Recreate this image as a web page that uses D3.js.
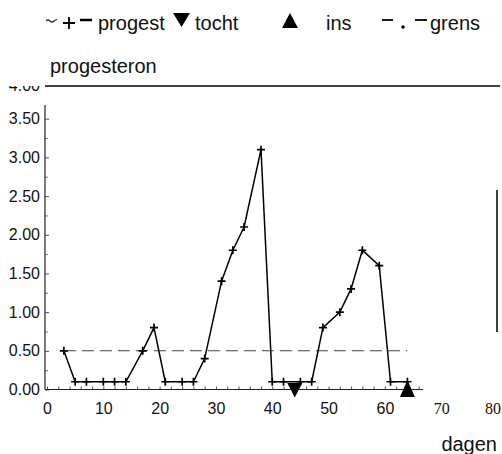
<!DOCTYPE html>
<html>
<head>
<meta charset="utf-8">
<script src="https://d3js.org/d3.v7.min.js"></script>
<style>
    body {margin: 0; background: #fff;}
    text {fill: #111;}
    .word {font-family: "Liberation Sans", Arial, sans-serif; font-size: 20px;}
    .tick text {font-family: "Liberation Sans", Arial, sans-serif; font-size: 16px;}
    .serif text {font-family: "Liberation Serif", "Times New Roman", serif;}
</style>
</head>
<body>
<script>

    // progesteron per dag
    var days    = [3, 5, 7, 10, 12, 14, 17, 19, 21, 24, 26, 28, 31, 33, 35, 38, 40, 42, 45, 47, 49, 52, 54, 56, 59, 61, 64];
    var progest = [0.5, 0.1, 0.1, 0.1, 0.1, 0.1, 0.5, 0.8, 0.1, 0.1, 0.1, 0.4, 1.4, 1.8, 2.1, 3.1, 0.1, 0.1, 0.1, 0.1, 0.8, 1.0, 1.3, 1.8, 1.6, 0.1, 0.1];
    var tocht = [44];
    var ins = [64];
    var grensDays = [3, 64], grensValue = 0.5;
    var xTicks = [0, 10, 20, 30, 40, 50, 60, 70, 80];
    var yTicks = [0, 0.5, 1, 1.5, 2, 2.5, 3, 3.5, 4];

    var width = 502, height = 454;

    var svg = d3.select("body").append("svg")
        .attr("width", width)
        .attr("height", height)

    var x = d3.scaleLinear().domain([0, 80]).range([47, 497.5]);
    var y = d3.scaleLinear().domain([0, 4]).range([389.5, 80]);

    // y axis: labels left, small ticks inside
    var yAxis = svg.append("g")
        .attr("transform", "translate(45,0)")
        .call(d3.axisLeft(y).tickValues(yTicks).tickFormat(d3.format(".2f")).tickSizeInner(-4).tickSizeOuter(0).tickPadding(5))
    yAxis.select(".domain").remove();
    yAxis.selectAll(".tick line").attr("stroke", "#555");
    var top4 = yAxis.selectAll(".tick").filter(function (d) { return d > 3.5 });
    top4.select("line").remove();
    top4.select("text").attr("dy", "0.68em");

    var yMinor = svg.append("g")
        .attr("transform", "translate(45,0)")
        .call(d3.axisLeft(y).tickValues(d3.range(0.25, 3.5, 0.5)).tickSizeInner(-3).tickSizeOuter(0).tickFormat(""))
    yMinor.select(".domain").remove();
    yMinor.selectAll("line").attr("stroke", "#777");

    svg.append("line")
        .attr("x1", 45).attr("x2", 45)
        .attr("y1", 105).attr("y2", y(0))
        .attr("stroke", "#222").attr("stroke-width", 1.2);

    // x axis
    var xAxis = svg.append("g")
        .attr("transform", "translate(0," + y(0) + ")")
        .call(d3.axisBottom(x).tickValues(xTicks).tickSize(0).tickPadding(13))
    xAxis.select(".domain").remove();
    xAxis.selectAll(".tick")
        .filter(function (d) { return d >= 70 })
        .classed("serif", true)
        .select("text").attr("font-size", 16).attr("dx", function (d) { return d == 80 ? -5 : 0 });

    var xMinor = svg.append("g")
        .attr("transform", "translate(0," + y(0) + ")")
        .call(d3.axisBottom(x).tickValues(d3.range(0, 67, 2)).tickSizeInner(-3).tickSizeOuter(0).tickFormat(""))
    xMinor.select(".domain").remove();
    xMinor.selectAll("line").attr("stroke", "#555");

    svg.append("line")
        .attr("x1", 45).attr("x2", x(66.8))
        .attr("y1", y(0)).attr("y2", y(0))
        .attr("stroke", "#222").attr("stroke-width", 1.2);

    // top cover + title line
    svg.append("rect").attr("x", 0).attr("y", 0).attr("width", width).attr("height", 86).attr("fill", "#fff");
    svg.append("line")
        .attr("x1", 45).attr("x2", 500)
        .attr("y1", 86).attr("y2", 86)
        .attr("stroke", "#000").attr("stroke-width", 1.3);
    svg.append("text").attr("class", "word").attr("x", 50).attr("y", 73).text("progesteron");

    // right bar
    svg.append("line")
        .attr("x1", 497).attr("x2", 497)
        .attr("y1", 190).attr("y2", 332)
        .attr("stroke", "#000").attr("stroke-width", 1.5);

    svg.append("text").attr("class", "word")
        .attr("x", 497).attr("y", 451)
        .attr("text-anchor", "end")
        .text("dagen");

    // grens
    svg.append("line")
        .attr("x1", x(grensDays[0])).attr("x2", x(grensDays[1]))
        .attr("y1", y(grensValue)).attr("y2", y(grensValue))
        .attr("stroke", "#444").attr("stroke-width", 1.1)
        .attr("stroke-dasharray", "12,6");

    // progest line
    var pts = days.map(function (d, i) { return [d, progest[i]] });

    svg.append("path")
        .datum(pts)
        .attr("fill", "none")
        .attr("stroke", "#000")
        .attr("stroke-width", 1.5)
        .attr("d", d3.line().x(function (d) { return x(d[0]) }).y(function (d) { return y(d[1]) }));

    svg.selectAll(".plus")
        .data(pts)
        .enter().append("path")
        .attr("class", "plus")
        .attr("transform", function (d) { return "translate(" + x(d[0]) + "," + y(d[1]) + ")" })
        .attr("d", "M-4,0H4M0,-4V4")
        .attr("stroke", "#000")
        .attr("stroke-width", 1.7);

    // tocht / ins markers
    svg.selectAll(".tocht")
        .data(tocht)
        .enter().append("path")
        .attr("transform", function (d) { return "translate(" + x(d) + "," + y(0) + ")" })
        .attr("d", "M-7.5,-6.5L7.5,-6.5L0,8Z")
        .attr("fill", "#000");

    svg.selectAll(".ins")
        .data(ins)
        .enter().append("path")
        .attr("transform", function (d) { return "translate(" + x(d) + "," + y(0) + ")" })
        .attr("d", "M-7.5,7.5L7.5,7.5L0,-9.5Z")
        .attr("fill", "#000");

    // legend
    var lg = svg.append("g");
    lg.append("path").attr("d", "M46,21q2,-2 4,0t4,0t3,-1").attr("fill", "none").attr("stroke", "#333").attr("stroke-width", 1.2);
    lg.append("path").attr("d", "M63,23H75M69,17V29").attr("stroke", "#000").attr("stroke-width", 1.8);
    lg.append("line").attr("x1", 80).attr("x2", 92).attr("y1", 20).attr("y2", 20).attr("stroke", "#000").attr("stroke-width", 2.5);
    lg.append("text").attr("class", "word").attr("x", 98).attr("y", 30).text("progest");
    lg.append("path").attr("d", "M173,13L190,13L181.5,27Z").attr("fill", "#000");
    lg.append("text").attr("class", "word").attr("x", 195).attr("y", 30).text("tocht");
    lg.append("path").attr("d", "M282,28L298,28L290,13Z").attr("fill", "#000");
    lg.append("text").attr("class", "word").attr("x", 326).attr("y", 30).text("ins");
    lg.append("line").attr("x1", 382).attr("x2", 393).attr("y1", 20).attr("y2", 20).attr("stroke", "#000").attr("stroke-width", 1.8);
    lg.append("circle").attr("cx", 403).attr("cy", 27).attr("r", 1.8).attr("fill", "#000");
    lg.append("line").attr("x1", 415).attr("x2", 427).attr("y1", 20).attr("y2", 20).attr("stroke", "#000").attr("stroke-width", 1.8);
    lg.append("text").attr("class", "word").attr("x", 430).attr("y", 30).text("grens");

</script>
</body>
</html>
